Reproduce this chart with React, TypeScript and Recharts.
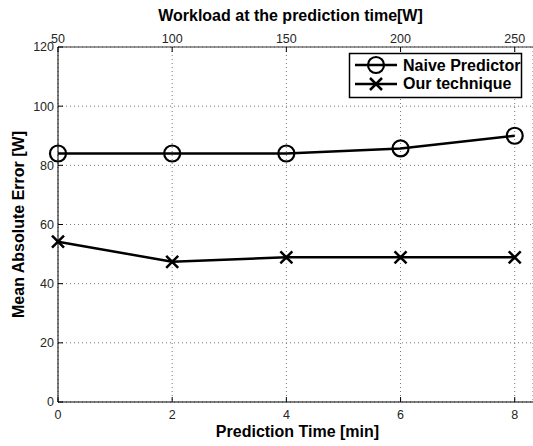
import React from "react";
import { LineChart, Line, XAxis, YAxis, CartesianGrid, Label } from "recharts";

const predictionTime = [0, 2, 4, 6, 8];
const workload = [50, 100, 150, 200, 250];
const naivePredictor = [84, 84, 84, 85.7, 90];
const ourTechnique = [54.2, 47.4, 48.9, 48.9, 48.9];
const errorTicks = [0, 20, 40, 60, 80, 100, 120];

const data = predictionTime.map((t, i) => ({
  t,
  naive: naivePredictor[i],
  ours: ourTechnique[i],
}));

const FONT = '"Liberation Sans", Arial, Helvetica, sans-serif';
const TICK_TEXT = "#262626";
const TICK_FONT = 12.5;
const TICK_LEN = 5;

// ticks point into the plot, the way MATLAB draws them
const BottomTick = (props: any) => {
  const { x, y, payload } = props;
  const axisY = y - 8;
  return (
    <g>
      <line x1={x} x2={x} y1={axisY} y2={axisY - TICK_LEN} stroke="#000" />
      <text x={x} y={y} dy="0.71em" textAnchor="middle" fontSize={TICK_FONT} fontFamily={FONT} fill={TICK_TEXT}>
        {payload.value}
      </text>
    </g>
  );
};

const TopTick = (props: any) => {
  const { x, y, payload } = props;
  const axisY = y + 4;
  const label = workload[predictionTime.indexOf(payload.value)];
  return (
    <g>
      <line x1={x} x2={x} y1={axisY} y2={axisY + TICK_LEN} stroke="#000" />
      <text x={x} y={y} textAnchor="middle" fontSize={TICK_FONT} fontFamily={FONT} fill={TICK_TEXT}>
        {label}
      </text>
    </g>
  );
};

const LeftTick = (props: any) => {
  const { x, y, payload } = props;
  const axisX = x + 4;
  return (
    <g>
      <line x1={axisX} x2={axisX + TICK_LEN} y1={y} y2={y} stroke="#000" />
      <text x={x} y={y} dy="0.355em" textAnchor="end" fontSize={TICK_FONT} fontFamily={FONT} fill={TICK_TEXT}>
        {payload.value}
      </text>
    </g>
  );
};

const circleMark = (cx: number, cy: number, key?: React.Key) => (
  <circle key={key} cx={cx} cy={cy} r={8} fill="none" stroke="#000" strokeWidth={2.2} />
);

const crossMark = (cx: number, cy: number, key?: React.Key) => (
  <path
    key={key}
    d={`M${cx - 6},${cy - 6}L${cx + 6},${cy + 6}M${cx + 6},${cy - 6}L${cx - 6},${cy + 6}`}
    stroke="#000"
    strokeWidth={2.5}
    fill="none"
  />
);

const titleStyle = { fontFamily: FONT, fontSize: 16, fontWeight: "bold", fill: "#000" } as const;

export default function App() {
  return (
    <div style={{ position: "absolute", left: 0, top: 0, width: 533, height: 446, background: "#fff" }}>
      <LineChart width={533} height={446} data={data} margin={{ top: 0, right: 0, bottom: 0, left: 0 }}>
        <CartesianGrid stroke="#777" strokeDasharray="1 3" />
        <XAxis
          dataKey="t"
          type="number"
          domain={[0, 8.32]}
          ticks={predictionTime}
          height={44}
          tickSize={0}
          tickMargin={8}
          tick={<BottomTick />}
          axisLine={{ stroke: "#000" }}
          tickLine={false}
        >
          <Label value="Prediction Time [min]" position="insideBottom" offset={8.7} dx={2} style={titleStyle} />
        </XAxis>
        <XAxis
          xAxisId="top"
          orientation="top"
          dataKey="t"
          type="number"
          domain={[0, 8.32]}
          ticks={predictionTime}
          height={47}
          tickSize={0}
          tickMargin={4}
          tick={<TopTick />}
          axisLine={{ stroke: "#333" }}
          tickLine={false}
        >
          <Label value="Workload at the prediction time[W]" position="insideTop" offset={9.3} dx={-5} style={titleStyle} />
        </XAxis>
        <YAxis
          type="number"
          domain={[0, 120]}
          ticks={errorTicks}
          width={58}
          tickSize={0}
          tickMargin={4}
          tick={<LeftTick />}
          axisLine={{ stroke: "#000" }}
          tickLine={false}
        >
          <Label
            value="Mean Absolute Error [W]"
            angle={-90}
            position="insideLeft"
            offset={28}
            dx={-9.5}
            style={{ ...titleStyle, textAnchor: "middle" }}
          />
        </YAxis>
        <Line
          dataKey="naive"
          type="linear"
          stroke="#000"
          strokeWidth={2.5}
          dot={(p: any) => circleMark(p.cx, p.cy, p.index)}
          activeDot={false}
          isAnimationActive={false}
        />
        <Line
          dataKey="ours"
          type="linear"
          stroke="#000"
          strokeWidth={2.5}
          dot={(p: any) => crossMark(p.cx, p.cy, p.index)}
          activeDot={false}
          isAnimationActive={false}
        />
      </LineChart>
      <svg width={533} height={446} style={{ position: "absolute", left: 0, top: 0, pointerEvents: "none" }}>
        <rect x={349.5} y={53.5} width={172} height={44} fill="#fff" stroke="#000" strokeWidth={1.5} />
        <line x1={355} x2={397} y1={65} y2={65} stroke="#000" strokeWidth={2.5} />
        {circleMark(376, 65)}
        <text x={403} y={70.5} style={titleStyle}>Naive Predictor</text>
        <line x1={355} x2={397} y1={84} y2={84} stroke="#000" strokeWidth={2.5} />
        {crossMark(376, 84)}
        <text x={403} y={89} style={titleStyle}>Our technique</text>
      </svg>
    </div>
  );
}
